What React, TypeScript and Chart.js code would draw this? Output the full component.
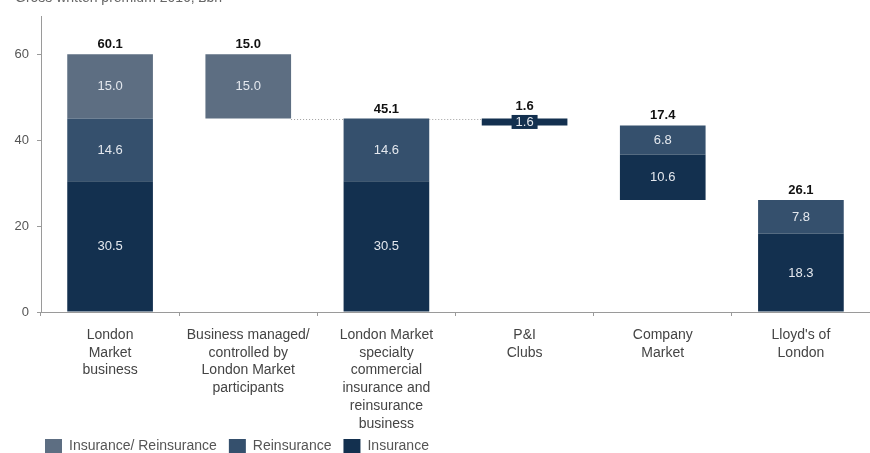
import React, { useEffect, useRef } from "react";
import { Chart, registerables } from "chart.js";

Chart.register(...registerables);

const categories: string[][] = [
  ["London", "Market", "business"],
  ["Business managed/", "controlled by", "London Market", "participants"],
  ["London Market", "specialty", "commercial", "insurance and", "reinsurance", "business"],
  ["P&I", "Clubs"],
  ["Company", "Market"],
  ["Lloyd's of", "London"],
];
const bases = [0, 45.1, 0, 43.5, 26.1, 0];
const insurance: (number | null)[] = [30.5, null, 30.5, 1.6, 10.6, 18.3];
const reinsurance: (number | null)[] = [14.6, null, 14.6, null, 6.8, 7.8];
const insRe: (number | null)[] = [15.0, 15.0, null, null, null, null];
const totals = [60.1, 15.0, 45.1, 1.6, 17.4, 26.1];
const yTicks = [0, 20, 40, 60];
const connectors: [number, number, number][] = [
  [1, 2, 45.1],
  [2, 3, 45.1],
];

const COLORS = {
  insRe: "#5d6e82",
  reins: "#35506d",
  ins: "#13304f",
};

const FONT = "Arial, 'Liberation Sans', sans-serif";

function buildRanges() {
  const ins: any[] = [];
  const re: any[] = [];
  const ir: any[] = [];
  for (let i = 0; i < categories.length; i++) {
    let s = bases[i];
    if (insurance[i] != null) {
      ins.push([s, s + (insurance[i] as number)]);
      s += insurance[i] as number;
    } else ins.push(null);
    if (reinsurance[i] != null) {
      re.push([s, s + (reinsurance[i] as number)]);
      s += reinsurance[i] as number;
    } else re.push(null);
    if (insRe[i] != null) {
      ir.push([s, s + (insRe[i] as number)]);
      s += insRe[i] as number;
    } else ir.push(null);
  }
  return { ins, re, ir };
}

const BAR_PCT = 0.62;

const legendShift = {
  id: "legendShift",
  afterLayout(chart: any) {
    const lg = chart.legend;
    if (!lg) return;
    lg.left = 33;
    lg.right = 870;
    lg.width = 837;
    lg.top = 427;
    lg.bottom = 453;
    lg.height = 26;
  },
};

const labelPlugin = {
  id: "wfLabels",
  afterDatasetsDraw(chart: any) {
    const ctx = chart.ctx as CanvasRenderingContext2D;
    const xs = chart.scales.x;
    const ys = chart.scales.y;
    const catW = chart.chartArea.width / categories.length;
    const halfW = (catW * BAR_PCT) / 2;
    ctx.save();
    // connectors
    ctx.strokeStyle = "#a0a0a0";
    ctx.lineWidth = 1;
    ctx.setLineDash([1, 2]);
    connectors.forEach(([a, b, v]) => {
      const yy = Math.round(ys.getPixelForValue(v)) + 0.5;
      ctx.beginPath();
      ctx.moveTo(xs.getPixelForValue(a) + halfW, yy);
      ctx.lineTo(xs.getPixelForValue(b) - halfW, yy);
      ctx.stroke();
    });
    ctx.setLineDash([]);
    // segment labels
    const segs = [insurance, reinsurance, insRe];
    const cols = [COLORS.ins, COLORS.reins, COLORS.insRe];
    ctx.font = `13px ${FONT}`;
    ctx.textAlign = "center";
    ctx.textBaseline = "middle";
    segs.forEach((arr, di) => {
      const meta = chart.getDatasetMeta(di);
      arr.forEach((v, i) => {
        if (v == null) return;
        const el = meta.data[i] as any;
        if (!el) return;
        const cy = (el.y + el.base) / 2;
        const h = Math.abs(el.base - el.y);
        if (h < 14) {
          ctx.fillStyle = cols[di];
          ctx.fillRect(el.x - 13, cy - 7, 26, 14);
        }
        ctx.fillStyle = "#e4e8ee";
        ctx.fillText(v.toFixed(1), el.x, cy + 0.5);
      });
    });
    // totals
    ctx.font = `bold 13px ${FONT}`;
    ctx.fillStyle = "#111";
    ctx.textBaseline = "alphabetic";
    totals.forEach((t, i) => {
      const top = bases[i] + t;
      const py = ys.getPixelForValue(top);
      const h = Math.abs(ys.getPixelForValue(bases[i]) - py);
      const off = h < 14 ? 9 : 6;
      ctx.fillText(t.toFixed(1), xs.getPixelForValue(i), py - off);
    });
    ctx.restore();
  },
};

export default function App() {
  const ref = useRef<HTMLCanvasElement | null>(null);
  useEffect(() => {
    if (!ref.current) return;
    const { ins, re, ir } = buildRanges();
    const chart = new Chart(ref.current, {
      type: "bar",
      data: {
        labels: categories as any,
        datasets: [
          { label: "Insurance", data: ins, backgroundColor: COLORS.ins },
          { label: "Reinsurance", data: re, backgroundColor: COLORS.reins },
          { label: "Insurance/ Reinsurance", data: ir, backgroundColor: COLORS.insRe },
        ],
      },
      options: {
        animation: false,
        responsive: false,
        maintainAspectRatio: false,
        layout: { padding: { top: 16, right: 0, left: 0, bottom: 0 } },
        datasets: {
          bar: {
            barPercentage: BAR_PCT,
            categoryPercentage: 1,
            grouped: false,
            borderSkipped: false,
          } as any,
        },
        plugins: {
          legend: {
            display: true,
            position: "bottom",
            align: "start",
            reverse: true,
            maxHeight: 1,
            labels: {
              boxWidth: 17,
              boxHeight: 14,
              padding: 12,
              color: "#555",
              font: { family: FONT, size: 14 },
            },
          } as any,
          tooltip: { enabled: false },
          title: { display: false },
        },
        scales: {
          x: {
            stacked: true,
            border: { display: true, color: "#9a9a9a", width: 1 },
            grid: {
              display: true,
              offset: true,
              drawOnChartArea: false,
              drawTicks: true,
              tickLength: 4,
              color: "#9a9a9a",
            },
            ticks: {
              color: "#444",
              padding: 10,
              maxRotation: 0,
              autoSkip: false,
              font: { family: FONT, size: 14, lineHeight: 1.27 },
            },
            afterFit(scale: any) {
              scale.height = 140;
            },
          },
          y: {
            stacked: false,
            min: 0,
            max: 69,
            border: { display: true, color: "#9a9a9a", width: 1 },
            grid: {
              display: true,
              drawOnChartArea: false,
              drawTicks: true,
              tickLength: 4,
              color: "#9a9a9a",
            },
            afterBuildTicks(scale: any) {
              scale.ticks = yTicks.map((v) => ({ value: v }));
            },
            ticks: {
              color: "#555",
              padding: 8,
              font: { family: FONT, size: 13 },
            },
            afterFit(scale: any) {
              scale.width = 41;
            },
          },
        },
      },
      plugins: [labelPlugin, legendShift],
    });
    return () => chart.destroy();
  }, []);

  return (
    <div
      style={{
        position: "fixed",
        left: 0,
        top: 0,
        width: 870,
        height: 453,
        overflow: "hidden",
        background: "#fff",
      }}
    >
      <div
        style={{
          position: "absolute",
          left: 15,
          top: -11,
          fontFamily: FONT,
          fontSize: 14,
          lineHeight: "16px",
          color: "#666",
          whiteSpace: "nowrap",
        }}
      >
        Gross written premium 2016, £bn
      </div>
      <canvas ref={ref} width={870} height={453} style={{ display: "block" }} />
    </div>
  );
}
